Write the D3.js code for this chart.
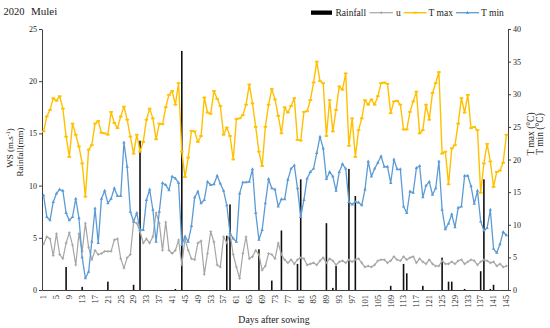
<!DOCTYPE html>
<html>
<head>
<meta charset="utf-8">
<script src="https://cdn.jsdelivr.net/npm/d3@7"></script>
<style>
  body { margin: 0; background: #fff; }
  svg text { font-family: "Liberation Serif", "Times New Roman", serif; fill: #222; }
</style>
</head>
<body>
<svg id="chart" width="550" height="328"></svg>
<script>
// days after sowing, 1..145
const days = d3.range(1, 146);
const tickDays = [1, 5, 9, 13, 17, 21, 25, 29, 33, 37, 41, 45, 49, 53, 57, 61, 65, 69, 73, 77,
  81, 85, 89, 93, 97, 101, 105, 109, 113, 117, 121, 125, 129, 133, 137, 141, 145];
const leftTicks = [0, 5, 10, 15, 20, 25];
const rightTicks = [0, 5, 10, 15, 20, 25, 30, 35, 40];

// T max (°C)
const tmax = [24.3, 26.6, 27.6, 29.4, 29.0, 29.7, 27.8, 23.5, 20.4, 25.5,
  23.8, 22.0, 19.4, 14.3, 21.5, 22.2, 25.5, 25.9, 24.1, 24.0,
  23.8, 27.3, 25.6, 24.8, 26.6, 28.1, 26.1, 23.5, 20.9, 23.8,
  21.2, 22.7, 26.1, 27.8, 26.3, 23.1, 25.5, 25.4, 28.0, 29.9,
  30.5, 28.4, 31.7, 21.2, 17.3, 20.3, 24.4, 24.3, 22.7, 23.6,
  29.5, 27.2, 27.0, 30.5, 29.3, 28.2, 23.8, 24.9, 23.6, 20.0,
  26.2, 26.3, 26.8, 28.4, 31.5, 28.6, 25.0, 21.2, 19.0, 25.0,
  28.4, 30.8, 29.2, 26.7, 24.0, 28.0, 27.2, 28.2, 29.4, 23.0,
  22.9, 27.3, 27.4, 29.1, 31.8, 35.0, 32.0, 31.7, 23.6, 29.1,
  24.3, 27.6, 31.2, 30.7, 33.2, 22.1, 26.3, 20.4, 24.5, 26.3,
  29.1, 28.4, 29.2, 28.4, 29.7, 31.7, 31.8, 31.6, 27.1, 28.9,
  29.0, 28.4, 24.6, 24.6, 27.3, 28.9, 30.4, 24.0, 24.5, 28.4,
  26.1, 30.2, 31.7, 33.4, 20.9, 21.2, 16.2, 21.7, 22.2, 25.5,
  29.4, 27.2, 29.9, 24.8, 25.0, 24.5, 14.9, 19.4, 22.4, 19.7,
  15.8, 18.1, 18.3, 19.5, 23.8];

// T min (°C)
const tmin = [14.5, 11.2, 10.7, 13.5, 14.8, 15.4, 15.2, 11.8, 10.7, 11.2,
  14.0, 11.0, 5.0, 1.8, 2.8, 7.4, 12.5, 7.2, 14.0, 15.2,
  13.3, 14.0, 15.6, 14.4, 14.4, 22.6, 18.9, 12.0, 10.5, 11.8,
  9.2, 9.2, 13.8, 15.4, 12.3, 7.4, 12.0, 16.4, 16.1, 15.3,
  17.4, 17.1, 16.4, 6.9, 8.2, 7.4, 9.8, 14.2, 15.1, 13.3,
  13.8, 16.6, 16.1, 16.2, 17.5, 16.3, 15.2, 13.0, 8.7, 7.9,
  7.4, 14.8, 16.5, 16.5, 16.6, 18.5, 11.8, 7.7, 9.2, 13.3,
  17.0, 15.6, 15.4, 12.8, 13.9, 13.9, 16.9, 18.6, 19.1, 15.6,
  11.2, 13.8, 17.1, 18.1, 18.6, 21.0, 23.5, 21.7, 17.0, 18.1,
  17.4, 15.2, 18.1, 19.3, 18.6, 13.5, 13.1, 13.5, 13.4, 13.0,
  15.4, 19.7, 17.4, 18.6, 19.5, 20.5, 18.9, 18.9, 16.4, 20.0,
  18.5, 18.5, 12.8, 11.8, 15.1, 14.9, 18.7, 19.0, 14.2, 16.0,
  16.6, 14.6, 15.6, 19.7, 12.3, 9.3, 10.2, 11.6, 9.6, 12.6,
  12.8, 17.5, 17.5, 15.9, 13.2, 15.2, 10.5, 9.1, 9.5, 12.3,
  6.3, 5.7, 7.0, 8.9, 8.4];

// u, wind speed (m/s)
const wind = [4.4, 5.1, 4.9, 3.3, 5.4, 3.4, 3.0, 4.5, 5.5, 4.3,
  2.4, 5.4, 3.7, 6.4, 4.1, 2.9, 3.8, 3.4, 3.5, 3.7,
  3.7, 3.7, 4.8, 4.9, 3.0, 2.1, 3.1, 3.4, 6.5, 6.4,
  5.6, 4.5, 4.9, 4.5, 5.1, 7.4, 6.4, 3.8, 6.5, 3.8,
  3.5, 3.8, 4.8, 2.4, 4.9, 3.8, 3.0, 2.9, 4.5, 4.7,
  1.5, 3.5, 5.6, 4.6, 2.4, 2.2, 5.1, 4.5, 5.4, 3.4,
  2.2, 1.1, 3.5, 5.1, 3.0, 3.2, 3.8, 3.4, 1.9, 2.3,
  3.5, 3.4, 3.0, 4.5, 3.4, 2.9, 2.6, 2.9, 2.5, 2.9,
  3.1, 3.0, 2.4, 2.5, 2.6, 2.4, 2.8, 3.1, 2.6, 3.0,
  2.8, 2.4, 2.7, 2.8, 2.6, 2.9, 2.7, 2.9, 3.0, 2.6,
  2.2, 2.3, 2.2, 2.4, 2.8, 2.9, 2.9, 2.6, 2.8, 3.2,
  2.9, 2.8, 3.2, 2.9, 3.1, 3.2, 2.6, 3.0, 2.7, 2.5,
  2.9, 2.5, 2.3, 2.3, 2.8, 2.5, 2.5, 2.7, 2.5, 2.8,
  2.9, 2.5, 2.7, 2.9, 2.8, 2.4, 2.7, 2.9, 2.8, 2.6,
  2.7, 2.3, 2.5, 2.2, 2.3];

// rainfall (mm), only the days with rain
const rainDays = [8, 13, 21, 29, 31, 42, 44, 58, 59, 68, 72, 75, 80, 81, 89, 91, 92, 96, 98,
  109, 113, 114, 119, 125, 127, 128, 132, 137, 138, 140, 141];
const rainMm = [2.2, 0.3, 0.8, 0.5, 14.3, 0.1, 22.9, 5.2, 8.2, 3.9, 0.9, 5.7, 2.5, 10.6, 6.4, 0.2, 2.3, 11.6, 9.0,
  0.4, 2.5, 1.6, 0.4, 3.1, 0.8, 0.8, 0.1, 1.8, 10.6, 0.1, 0.5];

const colTmax = '#FFC000', colTmin = '#5B9BD5', colWind = '#A5A5A5', colAxis = '#404040';

const svg = d3.select('#chart');

// scales
const x = d3.scaleBand().domain(days).range([42, 508]);
const cx = (d) => x(d) + x.bandwidth() / 2;
const yL = d3.scaleLinear().domain([0, 25]).range([290, 29]);
const yR = d3.scaleLinear().domain([0, 40]).range([290, 29]);

// axes
const leftAxis = d3.axisLeft(yL).tickValues(leftTicks).tickSize(3).tickPadding(2).tickSizeOuter(0);
const rightAxis = d3.axisRight(yR).tickValues(rightTicks).tickSize(3).tickPadding(2).tickSizeOuter(0);
const bottomAxis = d3.axisBottom(x).tickValues(tickDays).tickSize(0).tickSizeOuter(0);

const gL = svg.append('g').attr('transform', 'translate(42,0)').call(leftAxis);
const gR = svg.append('g').attr('transform', 'translate(508,0)').call(rightAxis);
const gB = svg.append('g').attr('transform', 'translate(0,290)').call(bottomAxis);

[gL, gR, gB].forEach(g => {
  g.select('.domain').attr('stroke', colAxis).attr('stroke-width', 1);
  g.selectAll('.tick line').attr('stroke', colAxis);
  g.selectAll('.tick text').attr('font-family', '"Liberation Serif", serif').attr('font-size', 8).attr('fill', '#333');
});

gB.selectAll('.tick text')
  .attr('transform', 'rotate(-90)')
  .attr('text-anchor', 'end')
  .attr('x', -5)
  .attr('y', 0)
  .attr('dy', '0.33em')
  .attr('font-size', 8.5);

// rainfall bars
svg.append('g').selectAll('rect')
  .data(rainDays)
  .enter()
  .append('rect')
  .attr('x', (d) => cx(d) - 0.8)
  .attr('width', 1.6)
  .attr('y', (d, i) => yL(rainMm[i]))
  .attr('height', (d, i) => yL(0) - yL(rainMm[i]))
  .attr('fill', '#111');

// lines
const drawLine = (values, scale, color, width) => {
  const line = d3.line().x((d, i) => cx(days[i])).y((d) => scale(d));
  svg.append('path')
    .datum(values)
    .attr('d', line)
    .attr('fill', 'none')
    .attr('stroke', color)
    .attr('stroke-width', width)
    .attr('stroke-linejoin', 'round');
};

drawLine(wind, yL, colWind, 1.2);
svg.append('g').selectAll('path')
  .data(wind)
  .enter()
  .append('path')
  .attr('d', 'M-1.4,0H1.4M0,-1.4V1.4')
  .attr('transform', (d, i) => `translate(${cx(days[i])},${yL(d)})`)
  .attr('stroke', colWind)
  .attr('stroke-width', 0.8);

drawLine(tmax, yR, colTmax, 1.4);
svg.append('g').selectAll('rect')
  .data(tmax)
  .enter()
  .append('rect')
  .attr('x', (d, i) => cx(days[i]) - 1.8)
  .attr('y', (d) => yR(d) - 0.9)
  .attr('width', 3.6)
  .attr('height', 1.8)
  .attr('fill', colTmax);

drawLine(tmin, yR, colTmin, 1.3);
svg.append('g').selectAll('path')
  .data(tmin)
  .enter()
  .append('path')
  .attr('d', d3.symbol(d3.symbolTriangle, 5))
  .attr('transform', (d, i) => `translate(${cx(days[i])},${yR(d)})`)
  .attr('fill', colTmin);

// title
svg.append('text').attr('x', 3.5).attr('y', 15).attr('font-size', 10.5).text('2020');
svg.append('text').attr('x', 31).attr('y', 15).attr('font-size', 11).text('Mulei');

// legend
const leg = svg.append('g').attr('font-size', 9.5);
leg.append('rect').attr('x', 311).attr('y', 10.5).attr('width', 21).attr('height', 4.3).attr('fill', '#000');
leg.append('text').attr('x', 335.5).attr('y', 15.5).text('Rainfall');
leg.append('line').attr('x1', 369.5).attr('x2', 393).attr('y1', 12.7).attr('y2', 12.7).attr('stroke', colWind).attr('stroke-width', 1.2);
leg.append('path').attr('d', 'M-1.4,0H1.4M0,-1.4V1.4').attr('transform', 'translate(381.3,12.7)').attr('stroke', colWind).attr('stroke-width', 0.8);
leg.append('text').attr('x', 396).attr('y', 15.5).text('u');
leg.append('line').attr('x1', 403.6).attr('x2', 426.5).attr('y1', 12.7).attr('y2', 12.7).attr('stroke', colTmax).attr('stroke-width', 1.4);
leg.append('rect').attr('x', 413.2).attr('y', 11.8).attr('width', 3.6).attr('height', 1.8).attr('fill', colTmax);
leg.append('text').attr('x', 428.6).attr('y', 15.5).text('T max');
leg.append('line').attr('x1', 456).attr('x2', 479).attr('y1', 12.7).attr('y2', 12.7).attr('stroke', colTmin).attr('stroke-width', 1.3);
leg.append('path').attr('d', d3.symbol(d3.symbolTriangle, 5)).attr('transform', 'translate(467.5,12.7)').attr('fill', colTmin);
leg.append('text').attr('x', 481).attr('y', 15.5).text('T min');

// axis titles
const leftTitle1 = svg.append('text')
  .attr('transform', 'translate(13,148) rotate(-90)')
  .attr('text-anchor', 'middle')
  .attr('font-size', 9);
leftTitle1.append('tspan').text('WS (m.s');
leftTitle1.append('tspan').attr('dy', -3).attr('font-size', 6).text('-1');
leftTitle1.append('tspan').attr('dy', 3).text(')');

svg.append('text')
  .attr('transform', 'translate(22.5,152) rotate(-90)')
  .attr('text-anchor', 'middle')
  .attr('font-size', 9)
  .text('Rainfall(mm)');

svg.append('text')
  .attr('transform', 'translate(534.3,134) rotate(-90)')
  .attr('text-anchor', 'middle')
  .attr('font-size', 9.5)
  .text('T max (°C)');

svg.append('text')
  .attr('transform', 'translate(542.8,134) rotate(-90)')
  .attr('text-anchor', 'middle')
  .attr('font-size', 9.5)
  .text('T min (°C)');

svg.append('text')
  .attr('x', 274)
  .attr('y', 323)
  .attr('text-anchor', 'middle')
  .attr('font-size', 9.8)
  .text('Days after sowing');
</script>
</body>
</html>
